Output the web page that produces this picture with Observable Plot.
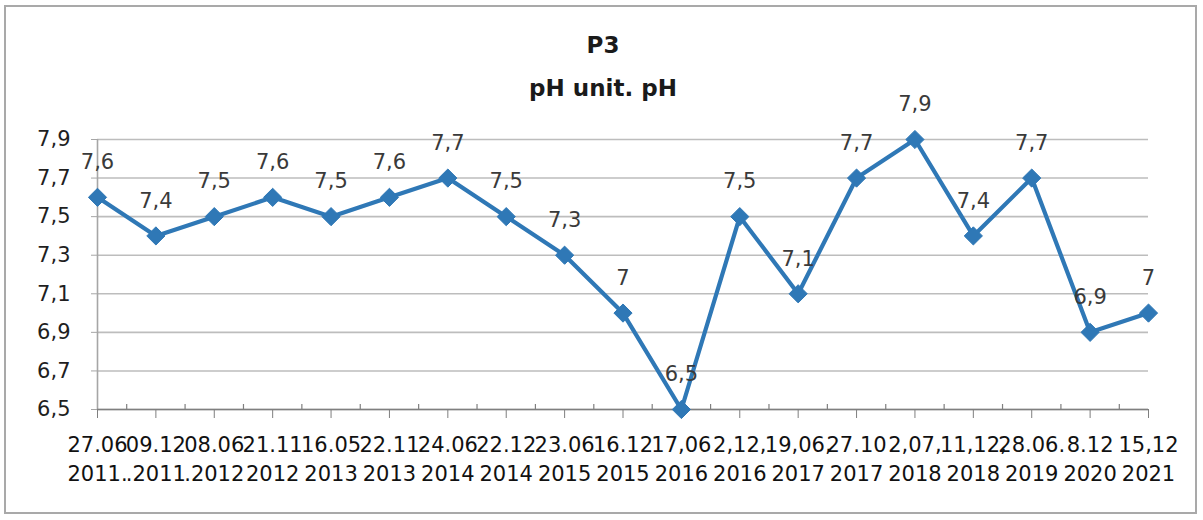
<!DOCTYPE html>
<html>
<head>
<meta charset="utf-8">
<script src="https://cdn.jsdelivr.net/npm/d3@7"></script>
<script src="https://cdn.jsdelivr.net/npm/@observablehq/plot@0.6"></script>
<style>
  html, body { margin: 0; padding: 0; background: #fff; }
  #wrap { position: relative; width: 1203px; height: 520px; overflow: hidden; font-family: "DejaVu Sans", sans-serif; }
  #frame { position: absolute; left: 4px; top: 5px; width: 1193px; height: 509px; border: 2px solid #a9a9a9; box-sizing: border-box; }
  .title { position: absolute; left: 0; width: 1206px; text-align: center; font-weight: bold; font-size: 23px; color: #1a1a1a; line-height: 1; }
  #chart { position: absolute; left: 0; top: 0; }
</style>
</head>
<body>
<div id="wrap">
  <div id="frame"></div>
  <div id="chart"></div>
  <div class="title" style="top:34px">P3</div>
  <div class="title" style="top:77px">pH unit. pH</div>
</div>
<script>
const dateLine1 = ["27.06","09.12","08.06","21.11","16.05","22.11","24.06","22.12","23.06","16.12","17,06","2,12,","19,06,","27.10","2,07,","11,12,","28.06.","8.12","15,12"];
const dateLine2 = ["2011.",".2011",".2012","2012","2013","2013","2014","2014","2015","2015","2016","2016","2017","2017","2018","2018","2019","2020","2021"];
const phValues = [7.6,7.4,7.5,7.6,7.5,7.6,7.7,7.5,7.3,7.0,6.5,7.5,7.1,7.7,7.9,7.4,7.7,6.9,7.0];
const yTicks = [6.5,6.7,6.9,7.1,7.3,7.5,7.7,7.9];

const data = phValues.map((v, i) => ({i, v}));
const idx = d3.range(phValues.length);
const mids = idx.slice(0, -1).map(i => i + 0.5);
const comma = v => String(v).replace(".", ",");
const blue = "#2f78b6";

const chart = Plot.plot({
  width: 1203,
  height: 520,
  marginLeft: 97,
  marginRight: 55,
  marginTop: 139,
  marginBottom: 111,
  style: {fontFamily: "'DejaVu Sans', sans-serif", background: "transparent", overflow: "visible"},
  x: {type: "linear", domain: [0, phValues.length - 1]},
  y: {domain: [6.5, 7.9]},
  marks: [
    Plot.gridY(yTicks, {stroke: "#bdbdbd", strokeOpacity: 1, strokeWidth: 1.6}),
    Plot.ruleX([0], {stroke: "#a6a6a6", strokeWidth: 1.6}),
    Plot.axisY({ticks: yTicks, tickFormat: comma, tickSize: 6, tickPadding: 21, fontSize: 21, color: "#1f1f1f", stroke: "#a6a6a6", label: null}),
    Plot.ruleY([6.5], {stroke: "#7f7f7f", strokeWidth: 1.6}),
    Plot.ruleX(mids, {x: d => d, y1: 6.5, y2: 6.5, insetTop: -5, stroke: "#7f7f7f", strokeWidth: 1.2}),
    Plot.axisX({ticks: idx, tickFormat: i => dateLine1[i] + "\n" + dateLine2[i], tickSize: 9, tickPadding: 13, fontSize: 21, lineHeight: 1.38, color: "#111", stroke: "#7f7f7f", label: null}),
    Plot.line(data, {x: "i", y: "v", stroke: blue, strokeWidth: 4.2}),
    Plot.dot(data, {x: "i", y: "v", symbol: "diamond2", r: 8.2, fill: blue, stroke: blue, strokeWidth: 1}),
    Plot.text(data, {x: "i", y: "v", text: d => comma(d.v), dy: -35, fontSize: 21, fill: "#3a3a3a"})
  ]
});
document.getElementById("chart").appendChild(chart);
</script>
</body>
</html>
